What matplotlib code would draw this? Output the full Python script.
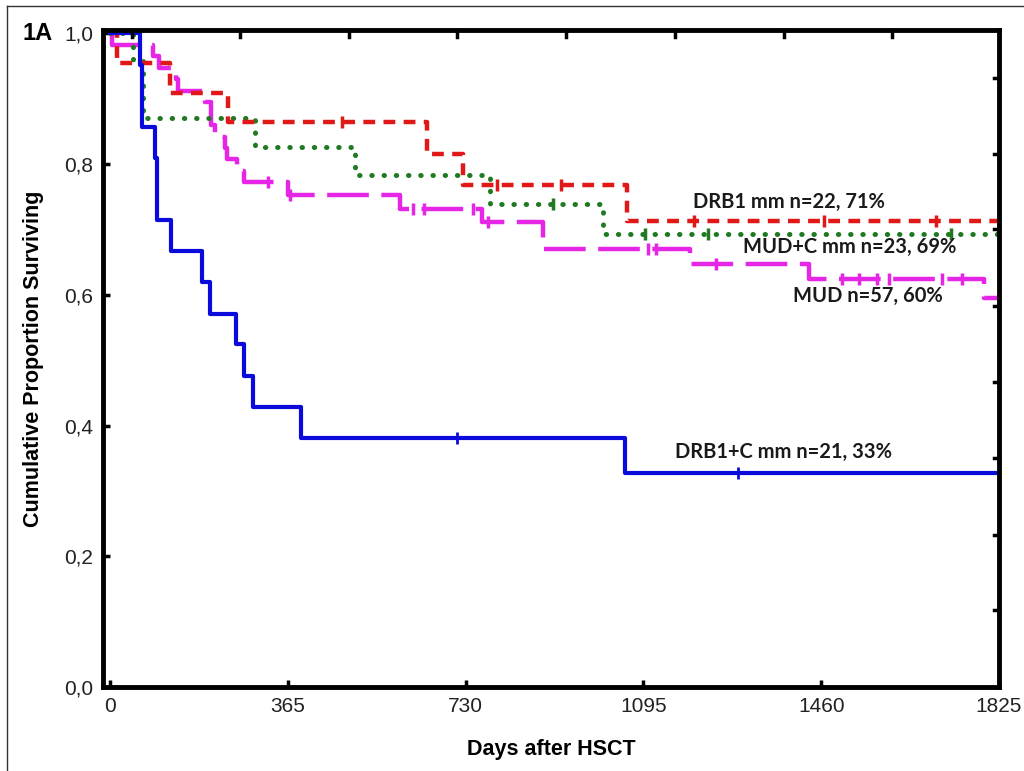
import numpy as np
import matplotlib
matplotlib.use("Agg")
import matplotlib.pyplot as plt
from matplotlib.lines import Line2D

plt.rcParams['lines.scale_dashes'] = False

# Kaplan-Meier steps (days, surviving proportion after step)
drb1c_t = [0, 62, 66, 92, 97, 125, 188, 205, 258, 275, 293, 392, 1058, 1825]
drb1c_s = [1.0, 0.952, 0.857, 0.810, 0.714, 0.667, 0.619, 0.571, 0.524, 0.476, 0.429, 0.381, 0.327, 0.327]
drb1c_ct = [713, 1290]
drb1c_cs = [0.381, 0.327]

drb1_t = [0, 15, 123, 243, 651, 725, 1062, 1825]
drb1_s = [1.0, 0.955, 0.909, 0.864, 0.816, 0.768, 0.713, 0.713]
drb1_ct = [477, 795, 925, 1198, 1465, 1695]
drb1_cs = [0.864, 0.768, 0.768, 0.713, 0.713, 0.713]

mudc_t = [0, 47, 68, 298, 503, 781, 1011, 1825]
mudc_s = [1.0, 0.957, 0.870, 0.826, 0.783, 0.739, 0.693, 0.693]
mudc_ct = [910, 1099, 1227, 1726]
mudc_cs = [0.739, 0.693, 0.693, 0.693]

mud_t = [0, 5, 89, 100, 135, 140, 195, 208, 215, 235, 240, 260, 275, 366,
         595, 763, 888, 1190, 1435, 1794, 1825]
mud_s = [1.0, 0.982, 0.965, 0.947, 0.930, 0.912, 0.895, 0.860, 0.842, 0.825,
         0.807, 0.789, 0.772, 0.752, 0.732, 0.712, 0.670, 0.647, 0.624, 0.595, 0.595]
mud_ct = [324, 369, 621, 644, 745, 775, 1104, 1121, 1244, 1503, 1538, 1575, 1600, 1708, 1749]
mud_cs = [0.772, 0.752, 0.732, 0.732, 0.732, 0.712, 0.670, 0.670, 0.647,
          0.624, 0.624, 0.624, 0.624, 0.624, 0.624]

labels = ["DRB1 mm n=22, 71%", "MUD+C mm n=23, 69%", "MUD n=57, 60%", "DRB1+C mm n=21, 33%"]
label_xy = [(1196, 0.742), (1299, 0.673), (1402, 0.598), (1159, 0.359)]

xticks = [0, 365, 730, 1095, 1460, 1825]
yticks = [0.0, 0.2, 0.4, 0.6, 0.8, 1.0]
yticklabels = ["0,0", "0,2", "0,4", "0,6", "0,8", "1,0"]
top_ticks = [45, 267, 491, 713, 937, 1159, 1383, 1605]
right_ticks = [0.118, 0.233, 0.35, 0.466, 0.583, 0.70, 0.816, 0.932]

fig = plt.figure(figsize=(10.24, 7.71), dpi=100)
ax = fig.add_axes([0.1006, 0.109, 0.875, 0.852])

blue = '#0a0adc'
red = '#e01818'
green = '#1f7a22'
magenta = '#e626e6'

ax.step(mud_t, mud_s, where='post', color=magenta, lw=3.2, dashes=(30, 9))
ax.plot(mud_ct, mud_cs, ls='none', marker='|', ms=9, mew=2.5, color=magenta)
ax.step(mudc_t, mudc_s, where='post', color=green, lw=3.6, dashes=(0.3, 8.5),
        dash_capstyle='round')
ax.plot(mudc_ct, mudc_cs, ls='none', marker='|', ms=9, mew=2.5, color=green)
ax.step(drb1_t, drb1_s, where='post', color=red, lw=3.2, dashes=(8.5, 6))
ax.plot(drb1_ct, drb1_cs, ls='none', marker='|', ms=9, mew=2.5, color=red)
ax.step(drb1c_t, drb1c_s, where='post', color=blue, lw=3.0)
ax.plot(drb1c_ct, drb1c_cs, ls='none', marker='|', ms=9, mew=2.0, color=blue)

for lab, (lx, ly) in zip(labels, label_xy):
    ax.text(lx, ly, lab, ha='left', va='center', fontsize=14.5, color='#1a1a1a',
            family='Lato', fontweight='bold')

ax.set_xlim(-14.4, 1825)
ax.set_ylim(0, 1.005)
ax.set_xticks(xticks)
ax.set_yticks(yticks)
ax.set_yticklabels(yticklabels)
for sp in ax.spines.values():
    sp.set_linewidth(3.5)
ax.tick_params(direction='in', length=5, width=2.5, labelsize=15, pad=7,
               colors='black')
for t in ax.get_xticklabels() + ax.get_yticklabels():
    t.set_family('Liberation Sans')
    t.set_color('#222222')

# small extra ticks on top and right frame
for xt in top_ticks:
    ax.plot([xt, xt], [1.005, 0.995], color='black', lw=2.5, clip_on=False)
for yt in right_ticks:
    ax.plot([1825, 1814], [yt, yt], color='black', lw=2.5, clip_on=False)

ax.set_xlabel('Days after HSCT', fontsize=15.5, fontweight='bold',
              family='Liberation Sans')
ax.set_ylabel('Cumulative Proportion Surviving', fontsize=15.5, fontweight='bold',
              family='Liberation Sans')
ax.xaxis.set_label_coords(0.5, -0.079)
ax.yaxis.set_label_coords(-0.066, 0.5)

fig.text(22 / 1024, 1 - 34 / 771, '1A', ha='left', va='center', fontsize=17,
         fontweight='bold', family='Liberation Sans')

# thin outer frame of the panel
fig.add_artist(Line2D([7 / 1024, 7 / 1024], [0, 1 - 6 / 771], color='#333333', lw=1))
fig.add_artist(Line2D([7 / 1024, 1], [1 - 6 / 771, 1 - 6 / 771], color='#333333', lw=1))

fig.savefig('out.png', dpi=100)
